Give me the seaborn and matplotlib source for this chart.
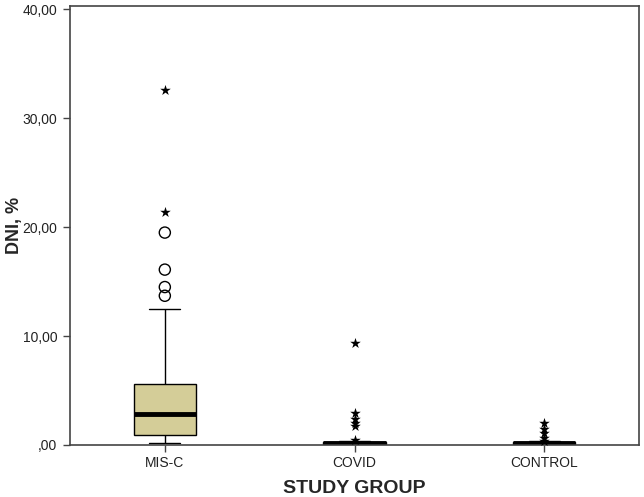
import matplotlib
matplotlib.use("Agg")
import matplotlib.pyplot as plt
import seaborn as sns
import pandas as pd

# ---- data ----
groups = ["MIS-C", "COVID", "CONTROL"]
# five-number summaries: lower whisker, Q1, median, Q3, upper whisker
misc_box = [0.15, 0.9, 2.85, 5.6, 12.5]
covid_box = [0.0, 0.05, 0.15, 0.28, 0.4]
control_box = [0.0, 0.05, 0.15, 0.28, 0.35]
# outliers (circles) and extremes (stars)
misc_circles = [13.7, 14.5, 16.1, 19.5]
misc_stars = [21.4, 32.6]
covid_stars = [9.35, 2.9, 2.4, 2.0, 1.7, 0.5]
control_stars = [2.0, 1.5, 1.1, 0.65, 0.4]
ytick_values = [0, 10, 20, 30, 40]
ytick_labels = [",00", "10,00", "20,00", "30,00", "40,00"]

box_df = pd.DataFrame({
    "group": ["MIS-C"] * 5 + ["COVID"] * 5 + ["CONTROL"] * 5,
    "value": misc_box + covid_box + control_box,
})
circ_df = pd.DataFrame({"group": ["MIS-C"] * len(misc_circles), "value": misc_circles})
star_df = pd.DataFrame({
    "group": ["MIS-C"] * len(misc_stars) + ["COVID"] * len(covid_stars) + ["CONTROL"] * len(control_stars),
    "value": misc_stars + covid_stars + control_stars,
})

sns.set_style("white")
plt.rcParams["font.family"] = ["Liberation Sans", "DejaVu Sans"]

fig = plt.figure(figsize=(6.44, 4.97), dpi=100)
ax = fig.add_axes([70 / 644, 52 / 497, 569 / 644, 439 / 497])

sns.boxplot(data=box_df, x="group", y="value", order=groups, ax=ax,
            width=0.33, showfliers=False, whis=1.5,
            color="#D4CD98", saturation=1,
            boxprops=dict(facecolor="#D4CD98", edgecolor="black", linewidth=1),
            medianprops=dict(color="black", linewidth=3.5),
            whiskerprops=dict(color="black", linewidth=1),
            capprops=dict(color="black", linewidth=1))

n_before = len(ax.collections)
sns.stripplot(data=circ_df, x="group", y="value", order=groups, ax=ax,
              jitter=False, marker="o", size=8, color="black", linewidth=1)
for coll in ax.collections[n_before:]:
    coll.set_facecolor("none")
    coll.set_edgecolor("black")
    coll.set_linewidth(1)

sns.stripplot(data=star_df, x="group", y="value", order=groups, ax=ax,
              jitter=False, marker="*", size=8, color="black", linewidth=0)

ax.set_xlim(-0.5, 2.5)
ax.set_ylim(0, 40.3)
ax.set_yticks(ytick_values)
ax.set_yticklabels(ytick_labels)

for s in ax.spines.values():
    s.set_visible(True)
    s.set_color("#444444")
    s.set_linewidth(1.2)

ax.tick_params(axis="both", which="major", direction="out", length=5, width=1,
               color="#444444", labelsize=10, labelcolor="#222222",
               left=True, bottom=True)
ax.tick_params(axis="y", pad=4)
ax.tick_params(axis="x", pad=3)

ax.set_xlabel("STUDY GROUP", fontsize=14, fontweight="bold", labelpad=7)
ax.set_ylabel("DNI, %", fontsize=13, fontweight="bold", labelpad=0)

fig.savefig("out.png", dpi=100)
